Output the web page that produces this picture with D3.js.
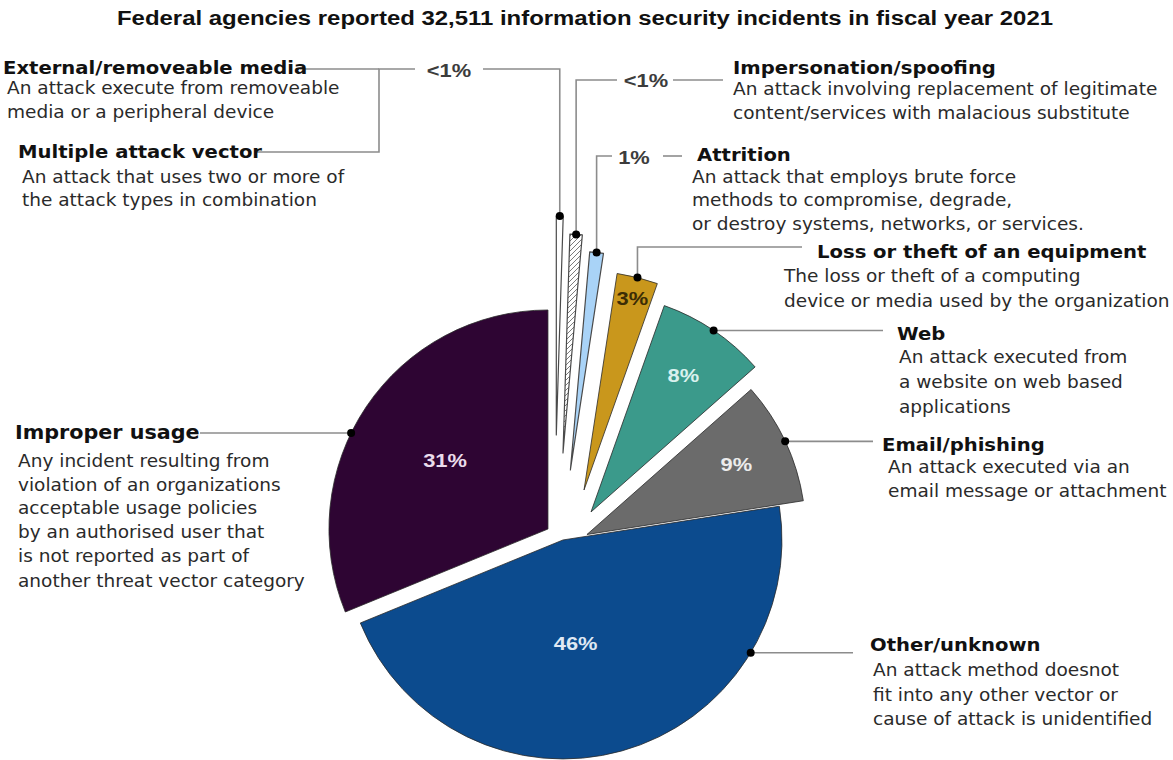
<!DOCTYPE html>
<html>
<head>
<meta charset="utf-8">
<script src="https://cdn.jsdelivr.net/npm/d3@7"></script>
<style>
  body { margin: 0; background: #fff; }
  svg { display: block; }
</style>
</head>
<body>
<script>
// Threat vectors, clockwise from 12 o'clock
const categories = [
  "External/removeable media + Multiple attack vector",
  "Impersonation/spoofing",
  "Attrition",
  "Loss or theft of an equipment",
  "Web",
  "Email/phishing",
  "Other/unknown",
  "Improper usage"
];
const shares = [0.5, 0.9, 1, 3, 8, 9, 46, 31];
const shareLabels = ["<1%", "<1%", "1%", "3%", "8%", "9%", "46%", "31%"];

// Annotation text
const noteTitles = [
  "External/removeable media",
  "Multiple attack vector",
  "Impersonation/spoofing",
  "Attrition",
  "Loss or theft of an equipment",
  "Web",
  "Email/phishing",
  "Other/unknown",
  "Improper usage"
];
const noteLines = [
  ["An attack execute from removeable", "media or a peripheral device"],
  ["An attack that uses two or more of", "the attack types in combination"],
  ["An attack involving replacement of legitimate", "content/services with malacious substitute"],
  ["An attack that employs brute force", "methods to compromise, degrade,", "or destroy systems, networks, or services."],
  ["The loss or theft of a computing", "device or media used by the organization"],
  ["An attack executed from", "a website on web based", "applications"],
  ["An attack executed via an", "email message or attachment"],
  ["An attack method doesnot", "fit into any other vector or", "cause of attack is unidentified"],
  ["Any incident resulting from", "violation of an organizations", "acceptable usage policies", "by an authorised user that", "is not reported as part of", "another threat vector category"]
];
const chartTitle = "Federal agencies reported 32,511 information security incidents in fiscal year 2021";

// ---- styling / layout ----
const W = 1173, H = 760;
const center = { x: 555, y: 533 };
const R = 219;
const fills = ["#ffffff", "url(#hatch)", "#a9d3f7", "#c9971c", "#3b9a8b", "#6b6b6b", "#0c4b8e", "#2e0533"];
const explodeDistance = [98, 80.4, 64.9, 51.9, 41.7, 32, 10.6, 8.1];
const explodeHeading = [0.76, 5.7, 13.7, 34, 59.7, 92.7, 131.2, 299.7];
const anchorAngle = [null, null, null, null, null, null, 121, 296];
const labelRadius = [null, null, null, 198, 165, 165, 104, 124];
const labelAngle = [null, null, null, null, null, null, 173, null];
const labelColors = [null, null, null, "#3b2c05", "#d9f1ee", "#ececec", "#dfe8f3", "#eadcec"];
const textStretch = 1.09;   // horizontal widening of the annotation text
const pctStretch = 1.15;    // horizontal widening of the percentage labels

// note blocks: title x, title baseline, description x, description baselines, title size
const noteLayout = [
  { x: 3,   y: 74,  dx: 7,   lines: [94, 118],  size: 18 },
  { x: 18,  y: 158, dx: 22,  lines: [183, 206], size: 18 },
  { x: 733, y: 74,  dx: 733, lines: [95, 119],  size: 18 },
  { x: 697, y: 161, dx: 692, lines: [183, 206, 230], size: 18 },
  { x: 817, y: 258, dx: 784, lines: [282, 307], size: 18 },
  { x: 897, y: 340, dx: 899, lines: [363, 388, 413], size: 18 },
  { x: 882, y: 451, dx: 888, lines: [473, 497], size: 18 },
  { x: 870, y: 651, dx: 873, lines: [676, 701, 725], size: 18 },
  { x: 15,  y: 439, dx: 18,  lines: [467, 491, 514, 538, 562, 587], size: 19 }
];

const rad = d => d * Math.PI / 180;

const svg = d3.select("body").append("svg")
  .attr("width", W).attr("height", H)
  .attr("viewBox", `0 0 ${W} ${H}`);

// hatching for the impersonation slice
const defs = svg.append("defs");
defs.append("pattern")
  .attr("id", "hatch")
  .attr("patternUnits", "userSpaceOnUse")
  .attr("width", 5).attr("height", 5)
  .call(p => {
    p.append("rect").attr("width", 5).attr("height", 5).attr("fill", "#fff");
    p.append("path")
      .attr("d", "M-1,1 l2,-2 M0,5 l5,-5 M4,6 l2,-2")
      .attr("stroke", "#7a7a7a").attr("stroke-width", 1);
  });

// title
svg.append("text")
  .attr("x", 585).attr("y", 25)
  .attr("text-anchor", "middle")
  .attr("font-family", "'Liberation Sans', Arial, sans-serif")
  .attr("font-weight", "bold")
  .attr("font-size", 20)
  .attr("textLength", 936)
  .attr("lengthAdjust", "spacingAndGlyphs")
  .attr("fill", "#111")
  .text(chartTitle);

const pie = d3.pie().sort(null).value(d => d)(shares);
const arc = d3.arc().innerRadius(0).outerRadius(R);

const apex = i => ({
  x: center.x + explodeDistance[i] * Math.sin(rad(explodeHeading[i])),
  y: center.y - explodeDistance[i] * Math.cos(rad(explodeHeading[i]))
});
const polar = (p, r, a) => ({ x: p.x + r * Math.sin(a), y: p.y - r * Math.cos(a) });

const slices = svg.append("g").selectAll("g.slice")
  .data(pie).join("g")
  .attr("class", "slice")
  .attr("transform", d => { const p = apex(d.index); return `translate(${p.x},${p.y})`; });

slices.append("path")
  .attr("d", arc)
  .attr("fill", d => fills[d.index])
  .attr("stroke", d => d.index < 3 ? "#4a4a4a" : "#2a2a2a")
  .attr("stroke-width", d => d.index < 3 ? 1.2 : 0.8)
  .attr("stroke-linejoin", "round");

// percentage labels inside the larger slices
slices.filter(d => labelRadius[d.index] !== null)
  .append("text")
  .attr("transform", d => {
    const i = d.index;
    const a = labelAngle[i] !== null ? rad(labelAngle[i]) : (d.startAngle + d.endAngle) / 2;
    const p = polar({ x: 0, y: 0 }, labelRadius[i], a);
    return `translate(${p.x},${p.y}) scale(${pctStretch},1)`;
  })
  .attr("text-anchor", "middle")
  .attr("dominant-baseline", "central")
  .attr("font-family", "'Liberation Sans', Arial, sans-serif")
  .attr("font-weight", "bold")
  .attr("font-size", 19)
  .attr("fill", d => labelColors[d.index])
  .text(d => shareLabels[d.index]);

// leader lines
const leaders = svg.append("g")
  .attr("fill", "none")
  .attr("stroke", "#8c8c8c")
  .attr("stroke-width", 1.6);
const dots = svg.append("g").attr("fill", "#000");
const outerLabels = svg.append("g")
  .attr("font-family", "'Liberation Sans', Arial, sans-serif")
  .attr("font-weight", "bold")
  .attr("font-size", 19)
  .attr("fill", "#3c3c3c")
  .attr("text-anchor", "middle")
  .attr("dominant-baseline", "central");

const anchors = pie.map((d, i) => {
  const a = anchorAngle[i] !== null ? rad(anchorAngle[i]) : (d.startAngle + d.endAngle) / 2;
  return polar(apex(i), R, a);
});

const line = d3.line();
// routes: [vertical stop y, horizontal stop x]
const routes = [[69, 483], [80, 617], [156, 612], [247, 802], [null, 883], [null, 873], [null, 853], [null, 200]];
routes.forEach(([vy, hx], i) => {
  const a = anchors[i];
  const pts = [[a.x, a.y]];
  if (vy !== null) { pts.push([a.x, vy]); pts.push([hx, vy]); }
  else pts.push([hx, a.y]);
  leaders.append("path").attr("d", line(pts));
});
// outer percentage labels and their continuation segments
const outerSpots = [[449, 70], [646, 80], [634, 157]];
outerSpots.forEach(([x, y], i) => {
  outerLabels.append("text")
    .attr("transform", `translate(${x},${y}) scale(${pctStretch},1)`)
    .text(shareLabels[i]);
});
leaders.append("path").attr("d", line([[415, 69], [379, 69], [379, 152], [255, 152]]));
leaders.append("path").attr("d", line([[379, 69], [300, 69]]));
leaders.append("path").attr("d", line([[673, 80], [723, 80]]));
leaders.append("path").attr("d", line([[663, 156], [682, 156]]));

anchors.forEach(a => dots.append("circle").attr("cx", a.x).attr("cy", a.y).attr("r", 4));

// annotation blocks
const notes = svg.append("g").attr("font-family", "'DejaVu Sans', Verdana, sans-serif");
noteLayout.forEach((L, k) => {
  notes.append("text")
    .attr("transform", `translate(${L.x},${L.y}) scale(${textStretch},1)`)
    .attr("font-weight", "bold")
    .attr("font-size", L.size)
    .attr("fill", "#111")
    .text(noteTitles[k]);
  noteLines[k].forEach((t, j) => {
    notes.append("text")
      .attr("transform", `translate(${L.dx},${L.lines[j]}) scale(${textStretch},1)`)
      .attr("font-size", 17)
      .attr("fill", "#2a2a2a")
      .text(t);
  });
});
</script>
</body>
</html>
